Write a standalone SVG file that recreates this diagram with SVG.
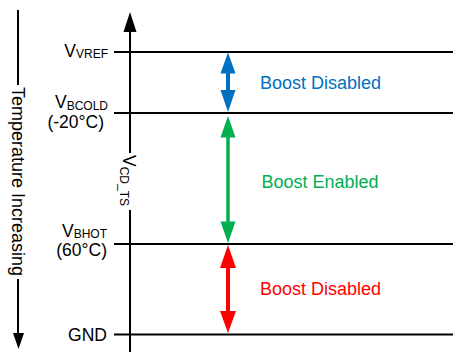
<svg xmlns="http://www.w3.org/2000/svg" width="453" height="352" viewBox="0 0 453 352">
<style>
text{font-family:"Liberation Sans",Arial,sans-serif;font-size:17.5px;fill:#000}
.sub{font-size:12px}
.lbl{font-size:18px}
.ln{stroke:#000;stroke-width:2;fill:none}
</style>
<rect width="453" height="352" fill="#fff"/>
<g id="connectors">
<line class="ln" x1="114" y1="52" x2="453" y2="52"/>
<line class="ln" x1="114" y1="113" x2="453" y2="113"/>
<line class="ln" x1="114" y1="244" x2="453" y2="244"/>
<line class="ln" x1="114" y1="334.5" x2="453" y2="334.5"/>
</g>
<g id="axis">
<line class="ln" x1="130" y1="28" x2="130" y2="153"/>
<line class="ln" x1="130" y1="210" x2="130" y2="352"/>
<polygon points="130,12 123.5,32 136.5,32" fill="#000"/>
<text transform="translate(123,155) rotate(90)">V<tspan class="sub" dy="3">CD_TS</tspan></text>
</g>
<g id="temperature">
<line class="ln" x1="18" y1="10" x2="18" y2="85"/>
<line class="ln" x1="18" y1="279" x2="18" y2="336"/>
<polygon points="18.5,349 13,333 24,333" fill="#000"/>
<text transform="translate(12,87) rotate(90)" style="font-size:18px">Temperature Increasing</text>
</g>
<g id="vref">
<text x="108" y="56.5" text-anchor="end">V<tspan class="sub" dy="1.5">VREF</tspan></text>
</g>
<g id="vbcold">
<text x="108" y="108" text-anchor="end">V<tspan class="sub" dy="1.5">BCOLD</tspan></text>
<text x="104" y="128" text-anchor="end">(-20°C)</text>
</g>
<g id="vbhot">
<text x="107" y="236.5" text-anchor="end">V<tspan class="sub" dy="1.5">BHOT</tspan></text>
<text x="107" y="256" text-anchor="end">(60°C)</text>
</g>
<g id="gnd">
<text x="107" y="340.5" text-anchor="end">GND</text>
</g>
<g id="region-top">
<line x1="228" y1="70" x2="228" y2="94" stroke="#0070C0" stroke-width="4"/>
<polygon points="228,52.5 220.5,73.5 235.5,73.5" fill="#0070C0"/>
<polygon points="228,112 220.5,90 235.5,90" fill="#0070C0"/>
<text class="lbl" x="260" y="88.5" fill="#0070C0" style="fill:#0070C0">Boost Disabled</text>
</g>
<g id="region-mid">
<line x1="228" y1="134" x2="228" y2="225" stroke="#00B050" stroke-width="3.5"/>
<polygon points="228,116 220.5,137.5 235.5,137.5" fill="#00B050"/>
<polygon points="228,243 220.5,221.5 235.5,221.5" fill="#00B050"/>
<text class="lbl" x="261.5" y="188" style="fill:#00B050">Boost Enabled</text>
</g>
<g id="region-bot">
<line x1="228" y1="264" x2="228" y2="315" stroke="#FF0000" stroke-width="4"/>
<polygon points="228,245 220,268 236,268" fill="#FF0000"/>
<polygon points="228,333 220,311 236,311" fill="#FF0000"/>
<text class="lbl" x="260" y="294.5" style="fill:#FF0000">Boost Disabled</text>
</g>
</svg>
